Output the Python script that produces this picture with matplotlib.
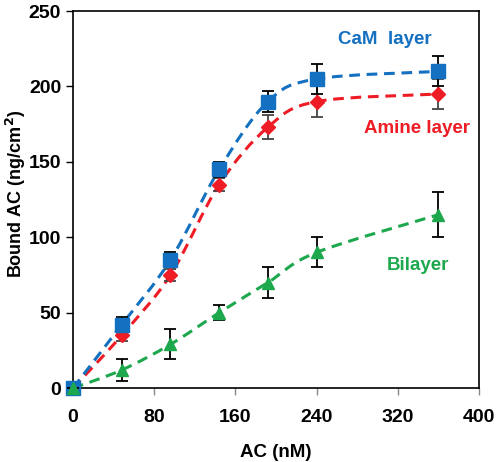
import numpy as np
import matplotlib
matplotlib.use("Agg")
import matplotlib.pyplot as plt
from matplotlib.path import Path
from matplotlib.patches import PathPatch

plt.rcParams['font.family'] = ['Liberation Sans', 'DejaVu Sans']
plt.rcParams['font.weight'] = 'bold'

# datos
ac = [0, 48, 96, 144, 192, 240, 360]
cam = [0, 42, 85, 145, 190, 205, 210]
cam_err = [0, 5, 5, 5, 7, 10, 10]
amina = [0, 35, 75, 135, 173, 190, 195]
amina_err = [0, 4, 4, 4, 8, 10, 10]
bicapa = [0, 12, 29, 50, 70, 90, 115]
bicapa_err = [0, 7, 10, 5, 10, 10, 15]

azul = '#1470C0'
rojo = '#EE1C25'
verde = '#1DA84E'


def curva(ax, x, y, color):
    # curva suave (Catmull-Rom) que pasa por los puntos, solo estilo de trazo
    p = np.column_stack([x, y]).astype(float)
    p = np.vstack([p[0], p, p[-1]])
    verts = [p[1]]
    codes = [Path.MOVETO]
    for i in range(1, len(p) - 2):
        c1 = p[i] + (p[i + 1] - p[i - 1]) / 6
        c2 = p[i + 1] - (p[i + 2] - p[i]) / 6
        verts += [c1, c2, p[i + 1]]
        codes += [Path.CURVE4] * 3
    pp = PathPatch(Path(verts, codes), fill=False, edgecolor=color, lw=2.2,
                   linestyle=(0, (3.5, 2.2)), zorder=2)
    ax.add_patch(pp)


fig = plt.figure(figsize=(4.98, 4.62), dpi=100)
ax = fig.add_axes([0.1466, 0.160, 0.8154, 0.816])

curva(ax, ac, amina, rojo)
curva(ax, ac, cam, azul)
curva(ax, ac, bicapa, verde)

ax.errorbar(ac, amina, yerr=amina_err, fmt='D', color=rojo, ms=7, mec=rojo,
            ecolor='#444444', elinewidth=1.3, capsize=4, capthick=1.3,
            zorder=3, clip_on=False)
ax.errorbar(ac, cam, yerr=cam_err, fmt='s', color=azul, ms=10.5, mec=azul,
            ecolor='black', elinewidth=1.3, capsize=4, capthick=1.3,
            zorder=4, clip_on=False)
ax.errorbar(ac, bicapa, yerr=bicapa_err, fmt='^', color=verde, ms=8, mec=verde,
            ecolor='black', elinewidth=1.3, capsize=4, capthick=1.3,
            zorder=5, clip_on=False)

ax.text(307, 231, 'CaM  layer', color=azul, fontsize=13.5, fontweight='bold',
        ha='center', va='center')
ax.text(339, 172, 'Amine layer', color=rojo, fontsize=13.5, fontweight='bold',
        ha='center', va='center')
ax.text(340, 81, 'Bilayer', color=verde, fontsize=13.5, fontweight='bold',
        ha='center', va='center')

ax.set_xlim(0, 400)
ax.set_ylim(0, 250)
ax.set_xticks([0, 80, 160, 240, 320, 400])
ax.set_yticks([0, 50, 100, 150, 200, 250])
ax.tick_params(axis='both', direction='out', length=5, width=1, labelsize=14)
ax.tick_params(axis='x', pad=10, colors='#888888', labelcolor='black')
for s in ax.spines.values():
    s.set_linewidth(1.2)
ax.set_xlabel('AC (nM)', fontsize=13.5, fontweight='bold', labelpad=13)
ax.set_ylabel('Bound AC (ng/cm$^\\mathbf{2}$)', fontsize=13, fontweight='bold')
ax.yaxis.set_label_coords(-0.112, 0.515)

plt.savefig('out.png', dpi=100)
